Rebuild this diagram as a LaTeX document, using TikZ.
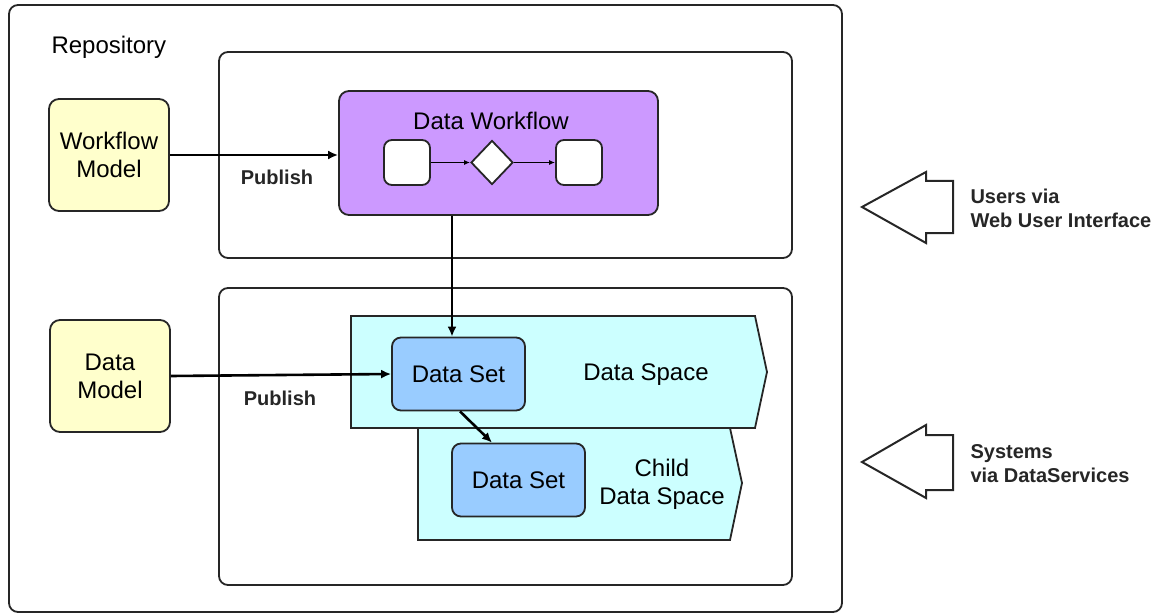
\documentclass[tikz,border=0pt]{standalone}
\usepackage{fontspec}
\setmainfont{Liberation Sans}
\usetikzlibrary{arrows.meta,shapes.geometric,calc}
\definecolor{yel}{HTML}{FFFFCC}
\definecolor{purp}{HTML}{CC99FF}
\definecolor{dsblue}{HTML}{99CCFF}
\definecolor{dscyan}{HTML}{CCFFFF}
\definecolor{edge}{HTML}{262626}
\begin{document}
\begin{tikzpicture}[x=1pt,y=-1pt,
  frame/.style={draw=edge,line width=1.8pt,rounded corners=9pt},
  bigtext/.style={font=\fontsize{24}{28}\selectfont,align=center,text=black},
  boldtext/.style={font=\fontsize{20}{24}\selectfont\bfseries,align=left,text=black!85},
  model/.style={draw=edge,line width=1.8pt,rounded corners=10pt,fill=yel,minimum width=120pt,minimum height=112pt,inner sep=0pt,bigtext},
  wfbox/.style={draw=edge,line width=1.8pt,rounded corners=10pt,fill=purp,minimum width=319pt,minimum height=124pt,inner sep=0pt},
  small/.style={draw=edge,line width=1.8pt,rounded corners=8pt,fill=white,minimum width=46pt,minimum height=45pt,inner sep=0pt},
  dia/.style={draw=edge,line width=1.8pt,diamond,fill=white,minimum width=42pt,minimum height=44pt,inner sep=0pt},
  dset/.style={draw=edge,line width=1.8pt,rounded corners=9pt,fill=dsblue,minimum width=133pt,minimum height=73pt,inner sep=0pt,bigtext},
  space/.style={draw=edge,line width=1.8pt,fill=dscyan,line join=miter},
  arr/.style={line width=2.6pt,draw=black,-{Latex[length=10pt,width=9pt]}},
  sarr/.style={line width=1.6pt,draw=black,-{Latex[length=6pt,width=5pt]}},
  bigarrow/.style={draw=edge,line width=2pt,fill=white,line join=miter}
]
\useasboundingbox (0,0) rectangle (1176,615);
% frames
\draw[frame] (9,5) rectangle (842,612);
\node[bigtext,anchor=west] (repo) at (48,47) {Repository};
\draw[frame] (219,52) rectangle (792,258);
\draw[frame] (219,288) rectangle (792,585);

% data spaces
\draw[space] (351,316) -- (755,316) -- (767,372) -- (755,428) -- (351,428) -- cycle;
\draw[space] (418,428) -- (730,428) -- (742,483) -- (730,540) -- (418,540) -- cycle;
\node[bigtext] (dslabel) at (646,375) {Data Space};
\node[bigtext] (cdslabel) at (662,484) {Child\\Data Space};

% models
\node[model] (wm) at (109,155) {Workflow\\Model};
\node[model] (dm) at (110,376) {Data\\Model};

% data workflow
\node[wfbox] (dw) at (498.5,153) {};
\node[bigtext] (dwt) at (491,121) {Data Workflow};
\node[small] (s1) at (407,162.5) {};
\node[dia] (d1) at (492,162.5) {};
\node[small] (s2) at (579,162.5) {};
\draw[sarr] (s1) -- (d1);
\draw[sarr] (d1) -- (s2);

% data sets
\node[dset] (ds1) at (458.5,374) {Data Set};
\node[dset] (ds2) at (518.5,480) {Data Set};

% connectors
\draw[arr] (wm.east |- 0,155) -- (dw.west |- 0,155);
\node[boldtext] (pub1) at (277,177) {Publish};
\draw[arr] (dm.east) -- (ds1.west);
\node[boldtext] (pub2) at (280,398) {Publish};
\coordinate (ds1in) at ([xshift=-6.5pt]ds1.north);
\draw[arr] (dw.south -| ds1in) -- (ds1in);
\coordinate (ds1out) at ([xshift=1.5pt]ds1.south);
\coordinate (ds2in) at ([xshift=-26.5pt]ds2.north);
\draw[arr] (ds1out) -- (ds2in);

% big arrows
\draw[bigarrow] (953,181) -- (926,181) -- (926,172) -- (862,207) -- (926,243) -- (926,233) -- (953,233) -- cycle;
\node[boldtext,anchor=west] (users) at (967,208) {Users via\\Web User Interface};
\draw[bigarrow] (953,435) -- (926,435) -- (926,425) -- (862,462) -- (926,498) -- (926,490) -- (953,490) -- cycle;
\node[boldtext,anchor=west] (systems) at (967,464) {Systems\\via DataServices};
\end{tikzpicture}
\end{document}
